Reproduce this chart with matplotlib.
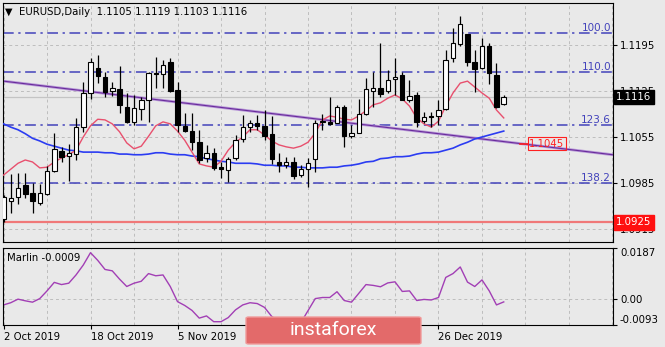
import numpy as np
import matplotlib.pyplot as plt
from matplotlib.patches import FancyBboxPatch

plt.rcParams['font.family'] = 'DejaVu Sans'

# дневные свечи EURUSD (open, high, low, close)
opens = [1.0930, 1.0958, 1.0964, 1.0982, 1.0970, 1.0955, 1.0968, 1.1003, 1.1034, 1.1026,
         1.1029, 1.1070, 1.1122, 1.1160, 1.1146, 1.1125, 1.1128, 1.1101, 1.1078, 1.1098,
         1.1111, 1.1152, 1.1151, 1.1169, 1.1127, 1.1072, 1.1064, 1.1047, 1.1023, 1.1031,
         1.1009, 1.1005, 1.1023, 1.1052, 1.1070, 1.1076, 1.1072, 1.1060, 1.1017, 1.1012,
         1.1017, 1.0997, 1.1006, 1.1022, 1.1078, 1.1078, 1.1076, 1.1101, 1.1056, 1.1061,
         1.1090, 1.1125, 1.1130, 1.1125, 1.1143, 1.1149, 1.1111, 1.1119, 1.1079, 1.1087,
         1.1087, 1.1098, 1.1175, 1.1197, 1.1212, 1.1169, 1.1160, 1.1193, 1.1149, 1.1105]
highs = [1.0967, 1.0999, 1.1000, 1.1000, 1.0985, 1.0984, 1.1011, 1.1061, 1.1040, 1.1044,
         1.1084, 1.1139, 1.1175, 1.1180, 1.1154, 1.1139, 1.1163, 1.1122, 1.1119, 1.1116,
         1.1154, 1.1177, 1.1172, 1.1175, 1.1139, 1.1092, 1.1092, 1.1066, 1.1043, 1.1038,
         1.1017, 1.1025, 1.1058, 1.1088, 1.1081, 1.1088, 1.1096, 1.1087, 1.1031, 1.1025,
         1.1025, 1.1012, 1.1023, 1.1081, 1.1090, 1.1116, 1.1104, 1.1104, 1.1073, 1.1113,
         1.1145, 1.1154, 1.1198, 1.1157, 1.1175, 1.1154, 1.1142, 1.1123, 1.1093, 1.1093,
         1.1111, 1.1187, 1.1221, 1.1239, 1.1212, 1.1187, 1.1206, 1.1198, 1.1168, 1.1119]
lows = [1.0926, 1.0939, 1.0953, 1.0962, 1.0939, 1.0951, 1.0967, 1.1002, 1.1017, 1.0988,
        1.1020, 1.1063, 1.1113, 1.1137, 1.1116, 1.1117, 1.1092, 1.1076, 1.1073, 1.1081,
        1.1078, 1.1130, 1.1130, 1.1123, 1.1063, 1.1063, 1.1035, 1.1015, 1.1017, 1.1005,
        1.0993, 1.0987, 1.1020, 1.1047, 1.1063, 1.1066, 1.1050, 1.1014, 1.1002, 1.1008,
        1.0991, 1.0994, 1.0979, 1.1002, 1.1066, 1.1073, 1.1076, 1.1040, 1.1053, 1.1061,
        1.1088, 1.1101, 1.1116, 1.1122, 1.1119, 1.1111, 1.1108, 1.1070, 1.1076, 1.1070,
        1.1073, 1.1096, 1.1169, 1.1193, 1.1163, 1.1123, 1.1158, 1.1136, 1.1099, 1.1103]
closes = [1.0964, 1.0962, 1.0977, 1.0968, 1.0958, 1.0970, 1.1003, 1.1037, 1.1025, 1.1031,
          1.1070, 1.1122, 1.1169, 1.1148, 1.1123, 1.1130, 1.1104, 1.1078, 1.1099, 1.1111,
          1.1152, 1.1151, 1.1165, 1.1125, 1.1073, 1.1064, 1.1047, 1.1020, 1.1031, 1.1008,
          1.1006, 1.1022, 1.1050, 1.1070, 1.1076, 1.1072, 1.1056, 1.1022, 1.1012, 1.1017,
          1.0996, 1.1006, 1.1015, 1.1076, 1.1079, 1.1075, 1.1101, 1.1056, 1.1061, 1.1090,
          1.1128, 1.1130, 1.1120, 1.1142, 1.1146, 1.1111, 1.1117, 1.1078, 1.1085, 1.1085,
          1.1096, 1.1172, 1.1198, 1.1227, 1.1169, 1.1158, 1.1193, 1.1152, 1.1101, 1.1116]

# скользящие средние
ma_fast = [1.0997, 1.1006, 1.1015, 1.1020, 1.1017, 1.1008, 1.1009, 1.1017, 1.1023, 1.1028,
           1.1035, 1.1055, 1.1072, 1.1082, 1.1081, 1.1075, 1.1063, 1.1046, 1.1037, 1.1041,
           1.1056, 1.1072, 1.1078, 1.1075, 1.1064, 1.1050, 1.1032, 1.1014, 1.1011, 1.1009,
           1.1018, 1.1035, 1.1047, 1.1055, 1.1066, 1.1066, 1.1058, 1.1049, 1.1043, 1.1040,
           1.1038, 1.1041, 1.1047, 1.1061, 1.1081, 1.1087, 1.1085, 1.1082, 1.1081, 1.1087,
           1.1095, 1.1104, 1.1107, 1.1114, 1.1119, 1.1113, 1.1102, 1.1084, 1.1075, 1.1070,
           1.1079, 1.1102, 1.1122, 1.1137, 1.1140, 1.1131, 1.1122, 1.1114, 1.1096, 1.1084]
ma_slow = [1.1075, 1.1070, 1.1066, 1.1060, 1.1053, 1.1049, 1.1044, 1.1041, 1.1038, 1.1035,
           1.1034, 1.1032, 1.1032, 1.1032, 1.1031, 1.1031, 1.1029, 1.1029, 1.1028, 1.1028,
           1.1029, 1.1031, 1.1031, 1.1029, 1.1028, 1.1028, 1.1026, 1.1025, 1.1022, 1.1020,
           1.1018, 1.1017, 1.1015, 1.1015, 1.1015, 1.1014, 1.1012, 1.1012, 1.1011, 1.1011,
           1.1009, 1.1009, 1.1008, 1.1008, 1.1008, 1.1009, 1.1009, 1.1011, 1.1012, 1.1014,
           1.1017, 1.1018, 1.1022, 1.1023, 1.1025, 1.1025, 1.1026, 1.1029, 1.1031, 1.1031,
           1.1032, 1.1035, 1.1038, 1.1043, 1.1047, 1.1052, 1.1055, 1.1058, 1.1061, 1.1064]

# осциллятор Marlin
marlin = [-0.0020, -0.0012, 0.0001, -0.0005, -0.0010, 0.0003, 0.0031, 0.0062, 0.0054, 0.0059,
          0.0089, 0.0125, 0.0170, 0.0142, 0.0109, 0.0104, 0.0074, 0.0047, 0.0059, 0.0066,
          0.0094, 0.0086, 0.0089, 0.0047, -0.0008, -0.0022, -0.0040, -0.0068, -0.0060, -0.0081,
          -0.0081, -0.0066, -0.0038, -0.0020, -0.0012, -0.0015, -0.0029, -0.0062, -0.0080, -0.0088,
          -0.0090, -0.0085, -0.0041, 0.0003, 0.0007, 0.0007, 0.0028, -0.0004, -0.0010, 0.0022,
          0.0054, 0.0051, 0.0046, 0.0060, 0.0064, 0.0029, 0.0031, -0.0004, 0.0000, -0.0002,
          0.0007, 0.0080, 0.0094, 0.0118, 0.0063, 0.0047, 0.0071, 0.0031, -0.0020, -0.0009]

date_ticks = [0, 12, 24, 36, 48, 60]
date_labels = ['2 Oct 2019', '18 Oct 2019', '5 Nov 2019', '', '', '26 Dec 2019']

fib_levels = [1.1213, 1.1154, 1.1073, 1.0985]
fib_names = ['100.0', '110.0', '123.6', '138.2']
support = 1.0925
trend_x = [0, 84]
trend_y = [1.1140, 1.1028]
trend_mark = 1.1045
price_ticks = [1.0915, 1.0985, 1.1055, 1.1125, 1.1195]
marlin_ticks = [-0.0093, 0.0, 0.0187]
marlin_labels = ['-0.0093', '0.00', '0.0187']
last_price = 1.1116

bg = '#e9e9e9'
fs = 7.3
W, H = 665, 347

fig = plt.figure(figsize=(W / 100, H / 100), dpi=100, facecolor=bg)
ax = fig.add_axes([3 / W, 1 - 242 / H, 610 / W, 239 / H], facecolor=bg)
ax2 = fig.add_axes([3 / W, 1 - 325 / H, 610 / W, 77 / H], facecolor=bg)

x = np.arange(len(closes))
o = np.array(opens)
c = np.array(closes)
xlim = (-0.07, 84.07)

# сетка
grid_style = dict(color='#bdbdbd', lw=0.7, ls=(0, (3, 3)), zorder=0)
for gx in range(0, 85, 6):
    ax.axvline(gx, **grid_style)
    ax2.axvline(gx, **grid_style)
for p in price_ticks:
    ax.axhline(p, **grid_style)
ax2.axhline(0, **grid_style)
ax.axhline(last_price, color='#c4c4c4', lw=0.9, zorder=1)

# уровни Фибоначчи
for lev, name in zip(fib_levels, fib_names):
    ax.axhline(lev, color='#4242bb', lw=1.1, ls=(0, (7, 3, 1.5, 3)), zorder=2)
    ax.text(83.8, lev + 0.00005, name, ha='right', va='bottom', color='#4242bb', fontsize=7.5)

ax.axhline(support, color='#f07878', lw=1.6, zorder=2)

# наклонная линия тренда
ax.plot(trend_x, trend_y, color='#b898d8', lw=2.0, zorder=2)
ax.plot(trend_x, trend_y, color='#6a2c9c', lw=0.8, zorder=2)
slope = (trend_y[1] - trend_y[0]) / (trend_x[1] - trend_x[0])
xm = trend_x[0] + (trend_mark - trend_y[0]) / slope
ax.plot([xm, xm + 1.1], [trend_mark, trend_mark], color='#ff2020', lw=1.2, zorder=6)
ax.text(xm + 1.25, trend_mark, '1.1045', color='#ff2020', fontsize=fs, va='center', ha='left',
        zorder=7, bbox=dict(boxstyle='square,pad=0.15', fc='none', ec='#ff2020', lw=0.8))

# средние
ax.plot(x, ma_slow, color='#2b3cf2', lw=1.2, zorder=3)
ax.plot(x, ma_fast, color='#e8506e', lw=1.0, zorder=3)

# свечи
ax.vlines(x, lows, highs, color='black', lw=0.9, zorder=4)
colors = np.where(c >= o, 'white', 'black')
ax.bar(x, np.abs(c - o), bottom=np.minimum(o, c), width=0.62, color=colors,
       edgecolor='black', lw=0.8, zorder=5)

ax.set_xlim(xlim)
ax.set_ylim(1.08952, 1.12589)
ax.set_xticks([])
ax.yaxis.tick_right()
ax.set_yticks(price_ticks)
ax.set_yticklabels(['%.4f' % p for p in price_ticks])
ax.tick_params(axis='y', length=3, labelsize=fs, pad=2, colors='black')

# метки цены на оси
tr = ax.get_yaxis_transform()
ax.text(1.005, last_price, '%.4f' % last_price, transform=tr, color='white', fontsize=fs,
        va='center', ha='left', zorder=10, clip_on=False,
        bbox=dict(boxstyle='square,pad=0.22', fc='black', ec='black'))
ax.text(1.005, support, '%.4f' % support, transform=tr, color='white', fontsize=fs,
        va='center', ha='left', zorder=10, clip_on=False,
        bbox=dict(boxstyle='square,pad=0.22', fc='#ff1010', ec='#ff1010'))

# нижняя панель
ax2.plot(x, marlin, color='#a23fb5', lw=1.0)
ax2.set_xlim(xlim)
ax2.set_ylim(-0.0093, 0.0187)
ax2.yaxis.tick_right()
ax2.set_yticks(marlin_ticks)
ax2.set_yticklabels(marlin_labels)
ax2.tick_params(axis='y', length=3, labelsize=fs, pad=2)
lbls = ax2.get_yticklabels()
lbls[0].set_va('bottom')
lbls[2].set_va('top')
ax2.set_xticks(date_ticks)
ax2.set_xticklabels(date_labels, ha='left')
ax2.tick_params(axis='x', length=3, labelsize=fs, pad=2)

for a in (ax, ax2):
    for s in a.spines.values():
        s.set_color('black')
        s.set_linewidth(0.8)

fig.text(7 / W, 1 - 258 / H, 'Marlin -0.0009', fontsize=fs, va='center', ha='left')

# заголовок
fig.text(5 / W, 1 - 12 / H, '▼', fontsize=7, va='center', ha='left')
fig.text(19 / W, 1 - 12 / H, 'EURUSD,Daily  1.1105 1.1119 1.1103 1.1116', fontsize=fs,
         va='center', ha='left')

# логотип
fig.patches.append(FancyBboxPatch((246 / W, 1 - 344 / H), 175 / W, 27 / H,
                                  boxstyle='round,pad=0,rounding_size=0.004',
                                  transform=fig.transFigure,
                                  fc='#e36a6a', ec='#f09a9a', lw=1, zorder=20))
fig.text(333 / W, 1 - 330 / H, 'instaforex', color='white', fontsize=14, family='Roboto',
         va='center', ha='center', zorder=21)

plt.savefig('out.png', dpi=100, facecolor=bg)
